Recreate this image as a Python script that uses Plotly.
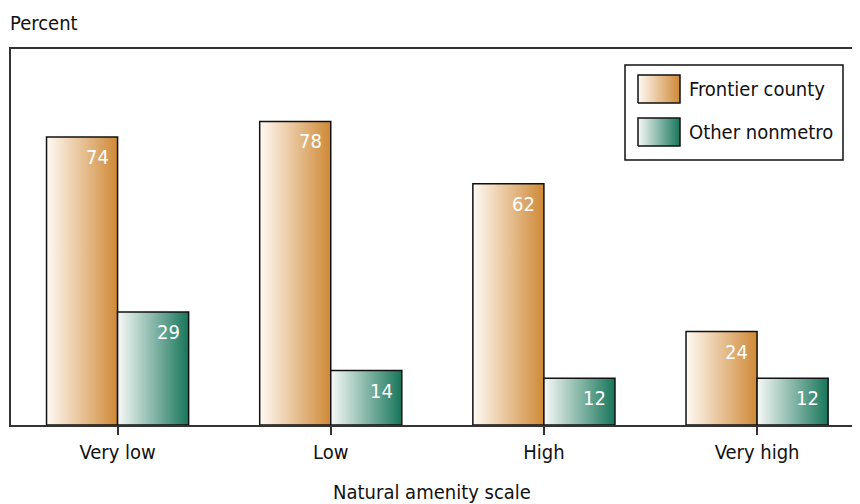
import plotly.graph_objects as go

categories = ["Very low", "Low", "High", "Very high"]
frontier = [74, 78, 62, 24]
other = [29, 14, 12, 12]
series_names = ["Frontier county", "Other nonmetro"]

FONT = "DejaVu Sans Condensed, Liberation Sans Narrow, Roboto, sans-serif"
orange_scale = [[0, "#FFFAF4"], [1, "#CF8936"]]
green_scale = [[0, "#F7F9F7"], [1, "#17765A"]]
BW = 1 / 3

fig = go.Figure()
annotations = []

def add_bar(x0, x1, v, scale):
    fig.add_trace(go.Scatter(
        x=[x0, x1, x1, x0, x0], y=[0, 0, v, v, 0],
        mode="lines", fill="toself",
        fillgradient=dict(type="horizontal", colorscale=scale),
        line=dict(color="#111111", width=1.5),
        showlegend=False, hoverinfo="skip"))
    annotations.append(dict(x=x1, y=v, xref="x", yref="y", text=str(v),
                            showarrow=False, xanchor="right", yanchor="middle",
                            xshift=-7, yshift=-20,
                            font=dict(family=FONT, size=20, color="white")))

for i, cat in enumerate(categories):
    add_bar(i - BW, i, frontier[i], orange_scale)
    add_bar(i, i + BW, other[i], green_scale)

# legend swatches drawn on an overlay axis in pixel units of the plot area
PW, PH = 842, 376
sw = [(627, 669, 322, 350), (627, 669, 279, 307)]
for (x0, x1, y0, y1), scale in zip(sw, [orange_scale, green_scale]):
    fig.add_trace(go.Scatter(
        x=[x0, x1, x1, x0, x0], y=[y0, y0, y1, y1, y0],
        xaxis="x2", yaxis="y2", mode="lines", fill="toself",
        fillgradient=dict(type="horizontal", colorscale=scale),
        line=dict(color="#111111", width=1.5),
        showlegend=False, hoverinfo="skip"))
for (x0, x1, y0, y1), name in zip(sw, series_names):
    annotations.append(dict(x=x1 + 7, y=(y0 + y1) / 2, xref="x2", yref="y2",
                            text=name, showarrow=False, xanchor="left", yanchor="middle",
                            font=dict(family=FONT, size=20, color="#111111")))

annotations.append(dict(x=0, y=1, xref="paper", yref="paper", text="Percent",
                        showarrow=False, xanchor="left", yanchor="bottom",
                        xshift=-3, yshift=12,
                        font=dict(family=FONT, size=20, color="#111111")))

fig.update_layout(
    width=852, height=496,
    margin=dict(l=3, r=7, t=41, b=79, autoexpand=False),
    paper_bgcolor="white", plot_bgcolor="white",
    font=dict(family=FONT, size=20, color="#111111"),
    annotations=annotations,
    shapes=[dict(type="rect", xref="x2", yref="y2", x0=614, x1=832, y0=265, y1=360,
                 line=dict(color="#111111", width=1.5), fillcolor="white", layer="below")],
    xaxis=dict(range=[-0.5, 3.45], tickmode="array", tickvals=list(range(len(categories))),
               ticktext=categories, ticks="outside", ticklen=8, tickcolor="#333333",
               tickwidth=1.5, showline=True, linecolor="#333333", linewidth=1.5,
               mirror=True, showgrid=False, zeroline=False, automargin=False,
               title=dict(text="Natural amenity scale", standoff=22,
                          font=dict(family=FONT, size=20)),
               tickfont=dict(family=FONT, size=20)),
    yaxis=dict(range=[0, 96.6], showticklabels=False, ticks="", showline=True,
               linecolor="#333333", linewidth=1.5, mirror=True, showgrid=False,
               zeroline=False, automargin=False),
    xaxis2=dict(domain=[0, 1], range=[0, PW], overlaying="x", visible=False, fixedrange=True),
    yaxis2=dict(domain=[0, 1], range=[0, PH], overlaying="y", visible=False, fixedrange=True,
                anchor="x2"),
    showlegend=False,
)
fig.data[-1].update(yaxis="y2")

fig.write_html("out.html")
